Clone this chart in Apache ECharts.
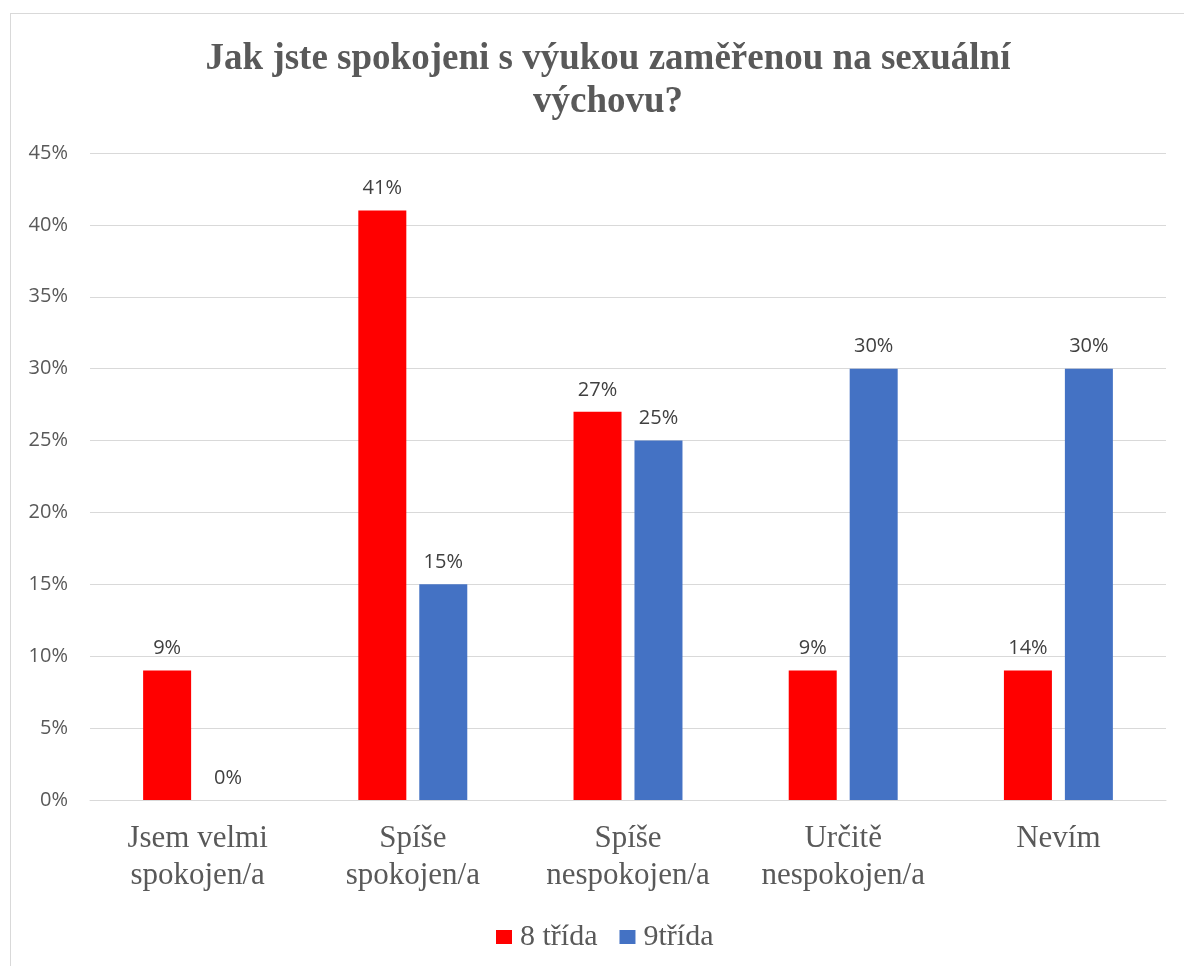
<!DOCTYPE html>
<html>
<head>
<meta charset="utf-8">
<script src="https://cdn.jsdelivr.net/npm/echarts@6/dist/echarts.min.js"></script>
<style>
  html, body { margin: 0; padding: 0; background: #fff; }
  #frame { position: absolute; left: 10px; top: 13px; width: 1190px; height: 970px; border: 1px solid #d9d9d9; box-sizing: border-box; }
  #chart { position: absolute; left: 0; top: 0; width: 1184px; height: 966px; }
</style>
</head>
<body>
<div id="frame"></div>
<div id="chart"></div>
<script>
  // kategorie a hodnoty
  const categories = ['Jsem velmi\nspokojen/a', 'Spíše\nspokojen/a', 'Spíše\nnespokojen/a', 'Určitě\nnespokojen/a', 'Nevím']
  const values8 = [9, 41, 27, 9, 9]
  const labels8 = ['9%', '41%', '27%', '9%', '14%'] // popisky jak jsou v originale
  const values9 = [0, 15, 25, 30, 30]
  const labels9 = ['0%', '15%', '25%', '30%', '30%']
  const yTicks = [0, 5, 10, 15, 20, 25, 30, 35, 40, 45]

  const chart = echarts.init(document.getElementById('chart'))
  const serif = '"Liberation Serif", "Times New Roman", serif'
  const sans = '"Open Sans", "Noto Sans", sans-serif'

  chart.setOption({
    animation: false,
    title: {
      text: 'Jak jste spokojeni s výukou zaměřenou na sexuální\nvýchovu?',
      left: 603,
      textAlign: 'center',
      top: 33,
      textStyle: {
        fontFamily: serif,
        fontWeight: 'bold',
        fontSize: 37,
        lineHeight: 43,
        color: '#595959'
      }
    },
    legend: {
      bottom: 9,
      left: 491,
      itemWidth: 16,
      itemHeight: 14,
      itemGap: 22,
      icon: 'rect',
      textStyle: { fontFamily: serif, fontSize: 30, color: '#595959', padding: [0, 0, 0, 3] },
      data: ['8 třída', '9třída']
    },
    grid: {
      left: 90,
      right: 18,
      top: 153,
      bottom: 166,
      containLabel: false
    },
    xAxis: {
      type: 'category',
      data: categories,
      axisTick: { show: false },
      axisLine: { lineStyle: { color: '#d9d9d9', width: 1 } },
      axisLabel: {
        fontFamily: serif,
        fontSize: 31,
        lineHeight: 37,
        color: '#595959',
        margin: 20,
        interval: 0
      }
    },
    yAxis: {
      type: 'value',
      min: 0,
      max: 45,
      interval: 5,
      axisLine: { show: false },
      axisTick: { show: false },
      splitLine: { lineStyle: { color: '#d9d9d9', width: 1 } },
      axisLabel: {
        fontFamily: sans,
        fontSize: 20,
        color: '#595959',
        margin: 22,
        formatter: v => (yTicks.includes(v) ? v + '%' : '')
      }
    },
    series: [
      {
        name: '8 třída',
        type: 'bar',
        barWidth: 48,
        barGap: '27%',
        itemStyle: { color: '#ff0000' },
        label: {
          show: true,
          position: 'top',
          distance: 12,
          fontFamily: sans,
          fontSize: 20,
          color: '#404040',
          formatter: p => labels8[p.dataIndex]
        },
        data: values8
      },
      {
        name: '9třída',
        type: 'bar',
        barWidth: 48,
        itemStyle: { color: '#4472c4' },
        label: {
          show: true,
          position: 'top',
          distance: 12,
          fontFamily: sans,
          fontSize: 20,
          color: '#404040',
          formatter: p => labels9[p.dataIndex]
        },
        data: values9
      }
    ]
  })
</script>
</body>
</html>
